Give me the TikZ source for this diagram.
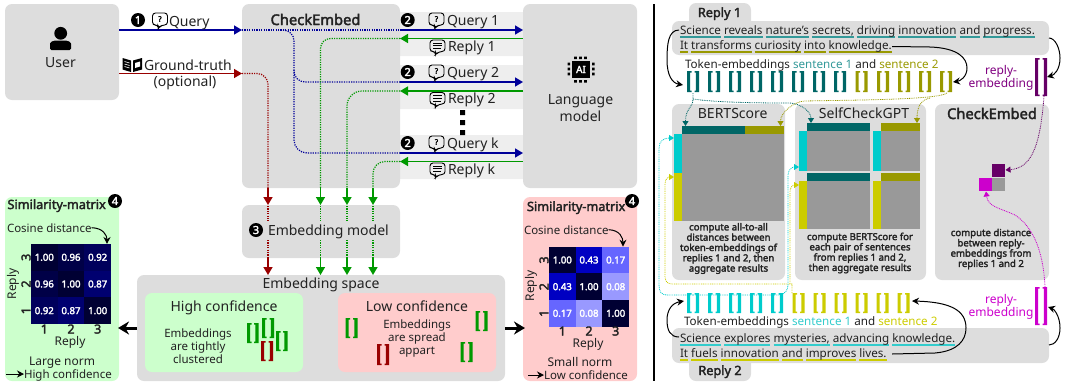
\documentclass[tikz,border=0pt]{standalone}
\usepackage{fontspec}
\setmainfont{Noto Sans}[AutoFakeBold=2.5]
\usetikzlibrary{arrows.meta}
\definecolor{pgray}{HTML}{DDDDDD}
\definecolor{lgray}{HTML}{EEEEEE}
\definecolor{tcol}{HTML}{222222}
\definecolor{cblue}{HTML}{000099}
\definecolor{cgreen}{HTML}{009900}
\definecolor{cred}{HTML}{990000}
\definecolor{lgreen}{HTML}{CCFFCC}
\definecolor{lred}{HTML}{FFCCCC}
\definecolor{cteal}{HTML}{006666}
\definecolor{colive}{HTML}{999900}
\definecolor{ccyan}{HTML}{00CCCC}
\definecolor{cyell}{HTML}{CCCC00}
\definecolor{tteal}{HTML}{339999}
\definecolor{tcyan}{HTML}{33CCCC}
\definecolor{cpurp}{HTML}{660066}
\definecolor{tpurp}{HTML}{800080}
\definecolor{cmag}{HTML}{CC00CC}
\definecolor{cgr}{HTML}{999999}
\definecolor{ma}{HTML}{000033}
\definecolor{mb}{HTML}{000047}
\definecolor{mc}{HTML}{00005C}
\definecolor{md}{HTML}{000070}
\definecolor{me}{HTML}{0000C2}
\definecolor{mf}{HTML}{6666FF}
\definecolor{mg}{HTML}{9999FF}
\newcommand\fsz[2]{\fontsize{#1}{#2}\selectfont}
\tikzset{
  panelbox/.style={rectangle,rounded corners=7pt,inner sep=0pt,outer sep=0pt},
  lbl/.style={inner sep=0pt,outer sep=0pt,text=tcol,font=\fsz{14}{16}},
  mid/.style={lbl,font=\fsz{12}{13}},
  midb/.style={lbl,font=\fsz{11.5}{13}},
  midc/.style={lbl,font=\fsz{11.66}{13}},
  boldsm/.style={lbl,align=center,font=\bfseries\fsz{9.6}{10.3}},
  boldmd/.style={lbl,font=\bfseries\fsz{12.7}{13}},
  boldlg/.style={lbl,font=\bfseries\fsz{14.7}{16}},
  mval/.style={rectangle,inner sep=0pt,outer sep=0pt,minimum size=26.67pt,text=white,font=\bfseries\fsz{9.6}{10}},
  axn/.style={lbl,font=\bfseries\fsz{12.5}{13}},
  sol/.style={line width=1.5pt,-{Triangle[length=8pt,width=9pt]}},
  dotl/.style={line width=1.2pt,dash pattern=on 1.2pt off 1.2pt},
  thind/.style={line width=.8pt,dash pattern=on .9pt off .9pt,-{Triangle[length=5pt,width=6pt]}},
  blk/.style={line width=1pt,black,-{Stealth[length=7pt,width=7pt]}},
  big/.style={line width=3pt,black,-{Stealth[length=11pt,width=13pt]}},
  numc/.style={circle,fill=black,text=white,inner sep=0pt,minimum size=14pt,font=\bfseries\fsz{11}{11}},
}
\newcommand\panel[6]{\node[panelbox,fill=#6,minimum width={(#4-#2)*1pt},minimum height={(#5-#3)*1pt}] (#1) at ({(#2+#4)/2},{(#3+#5)/2}) {};}
\newcommand\brk[5]{\fill[#5] (#1,#2) rectangle (#1+3.2,#4) (#1,#2) rectangle (#1+4.5,#2+1.5) (#1,#4-1.5) rectangle (#1+4.5,#4)
  (#3,#2) rectangle (#3-3.2,#4) (#3,#2) rectangle (#3-4.5,#2+1.5) (#3,#4-1.5) rectangle (#3-4.5,#4);}
\newcommand\cbar[6]{\node[rectangle,inner sep=0pt,outer sep=0pt,fill=#6,minimum width={(#4-#2)*1pt},minimum height={(#5-#3)*1pt}] (#1) at ({(#2+#4)/2},{(#3+#5)/2}) {};}
\newcommand\qicon[2]{\begin{scope}[shift={(#1,#2)}]
  \draw[line width=.9pt,rounded corners=3pt] (-7.5,-7) -- (7.5,-7) -- (7.5,5) -- (1.5,5) -- (-1.5,8.5) -- (-2,5) -- (-7.5,5) -- cycle;
  \node[inner sep=0pt,font=\bfseries\fsz{7.5}{8}] at (0,-1) {?};\end{scope}}
\newcommand\ricon[2]{\begin{scope}[shift={(#1,#2)}]
  \draw[line width=.9pt,rounded corners=3pt] (-7.5,-6.5) -- (7.5,-6.5) -- (7.5,5) -- (1.5,5) -- (-2,8.5) -- (-2,5) -- (-7.5,5) -- cycle;
  \draw[line width=1pt] (-4.5,-3.5) -- (4.5,-3.5) (-4.5,-.7) -- (4.5,-.7) (-4.5,2) -- (3,2);\end{scope}}
\newcommand\wu[2]{\setbox0\hbox{#2}\rlap{\color{#1}\vrule width\wd0 height -2.2pt depth 3.7pt}\box0\relax}
\newcommand\mcell[5]{\node[mval,fill=#4] (#1) at (#2,#3) {#5};}
\begin{document}
\begin{tikzpicture}[x=1pt,y=-1pt]
\useasboundingbox (0,0) rectangle (1067,381);
% ---------- left diagram: backgrounds
\fill[lgray] (400,12) rectangle (523,56) (400,65) rectangle (523,109) (400,135) rectangle (523,179);
\panel{user}{5}{4}{119}{100}{pgray}
\panel{ce}{242}{4}{400}{188}{pgray}
\panel{lm}{523}{4}{637}{188}{pgray}
\panel{em}{242}{205}{400}{258}{pgray}
\panel{es}{137}{275}{505}{381}{pgray}
\panel{hc}{145}{293}{303}{372}{lgreen}
\panel{lc}{338}{293}{496}{372}{lred}
\panel{sl}{5}{197}{119}{381}{lgreen}
\panel{sr}{523}{197}{637}{381}{lred}
% row coordinates
\coordinate (yq) at (0,30); \coordinate (yg) at (0,73.5);
\coordinate (q1) at (0,30); \coordinate (r1) at (0,38.5);
\coordinate (q2) at (0,82); \coordinate (r2) at (0,91);
\coordinate (qk) at (0,153); \coordinate (rk) at (0,161.5);
% dotted routing inside CheckEmbed
\draw[dotl,cblue] (ce.west |- q1) -- (ce.east |- q1);
\draw[dotl,cblue,rounded corners=11pt] (283,30) -- (294,30) -- (294,82) -- (ce.east |- q2);
\draw[dotl,cblue,rounded corners=13pt] (294,70) -- (294,153) -- (ce.east |- qk);
\draw[dotl,cred,rounded corners=11pt] (ce.west |- yg) -- (268,73.5) -- (268,188);
\draw[dotl,cgreen,rounded corners=10pt] (ce.east |- r1) -- (320.5,38.5) -- (320.5,188);
\draw[dotl,cgreen,rounded corners=15pt] (ce.east |- r2) -- (347,91) -- (347,188);
\draw[dotl,cgreen,rounded corners=12pt] (ce.east |- rk) -- (373,161.5) -- (373,188);
% solid arrows top
\draw[sol,cblue] (user.east |- yq) -- (ce.west |- yq);
\draw[sol,cred] (user.east |- yg) -- (ce.west |- yg);
\draw[sol,cblue] (ce.east |- q1) -- (lm.west |- q1);
\draw[sol,cblue] (ce.east |- q2) -- (lm.west |- q2);
\draw[sol,cblue] (ce.east |- qk) -- (lm.west |- qk);
\draw[sol,cgreen] (lm.west |- r1) -- (ce.east |- r1);
\draw[sol,cgreen] (lm.west |- r2) -- (ce.east |- r2);
\draw[sol,cgreen] (lm.west |- rk) -- (ce.east |- rk);
% arrows into/out of embedding model
\foreach \xx/\cc in {268/cred,320.5/cgreen,347/cgreen,373/cgreen}{
  \draw[sol,\cc] (\xx,188) -- (\xx,205);
  \draw[dotl,\cc] (\xx,206) -- (\xx,221);
  \draw[dotl,\cc] (\xx,240) -- (\xx,258);
  \draw[sol,\cc] (\xx,258) -- (\xx,275);
}
% user icon
\fill[black] (60.7,33.3) circle (6.4);
\fill[black,rounded corners=1.5pt] (50,50) -- (50,45) .. controls (50,42) and (53,40.7) .. (56,40.7) -- (65,40.7) .. controls (68,40.7) and (71,42) .. (71,45) -- (71,50) -- cycle;
\node[lbl,anchor=base] (utxt) at (60.5,67) {User};
% labels top
\node[numc] (n1) at (138,20) {1};
\qicon{160}{20}
\node[lbl,anchor=base west] (lq) at (169,26) {Query};
\fill[black] (122.5,58) -- (131,60.5) -- (131,72) -- (122.5,69.5) -- cycle (142,58) -- (133,60.5) -- (133,72) -- (142,69.5) -- cycle;
\draw[white,line width=.6pt] (124.5,61.5) -- (129.5,63) (124.5,64) -- (129.5,65.5) (124.5,66.5) -- (129.5,68);
\fill[white] (135,63) -- (140,61.5) -- (140,66.5) -- (135,68) -- cycle;
\node[lbl,anchor=base west] (lg) at (144,70) {Ground-truth};
\node[lbl,anchor=base] (lo) at (185,86) {(optional)};
\node[boldlg,anchor=base] (cet) at (315.5,25) {CheckEmbed};
\foreach \nm/\yy/\lab in {a/20/Query 1,b/72/Query 2,c/143/Query k}{
  \node[numc] (n2\nm) at (407.7,\yy) {2};
  \qicon{436.5}{\yy}
  \pgfmathsetmacro\bb{\yy+5.2}
  \node[lbl,anchor=base west] (q\nm) at (447,\bb) {\lab};
}
\foreach \nm/\yy/\lab in {a/46.5/Reply 1,b/99/Reply 2,c/169.5/Reply k}{
  \ricon{437.5}{\yy}
  \pgfmathsetmacro\bb{\yy+4.7}
  \node[lbl,anchor=base west] (r\nm) at (448,\bb) {\lab};
}
\fill[black] (460,110) rectangle (465,115) (460,120) rectangle (465,125) (460,130) rectangle (465,135);
% chip
\fill[black] (572,61) rectangle (590,78);
\node[inner sep=0pt,text=white,font=\bfseries\fsz{10}{10}] (chip) at (581,69.5) {AI};
\foreach \pp in {575,580,585}{\fill[black] (\pp-.8,56.5) rectangle (\pp+1.8,59) (\pp-.8,80) rectangle (\pp+1.8,82.5);}
\foreach \pp in {63.5,68.5,73.5}{\fill[black] (567.5,\pp-.8) rectangle (570,\pp+1.8) (592,\pp-.8) rectangle (594.5,\pp+1.8);}
\node[lbl,anchor=base] (lm1) at (580.5,104) {Language};
\node[lbl,anchor=base] (lm2) at (580.5,121) {model};
% embedding model
\node[numc] (n3) at (256,230) {3};
\node[lbl,anchor=base west] (emt) at (268,235) {Embedding model};
\node[lbl,anchor=base] (est) at (321,288) {Embedding space};
% big arrows
\draw[big] (es.west |- 0,328) -- (118,328);
\draw[big] (es.east |- 0,328) -- (525,328);
% confidence
\node[lbl,anchor=base] (hct) at (224,311) {High confidence};
\node[lbl,anchor=base] (lct) at (417,311) {Low confidence};
\node[midb,anchor=base] (he1) at (198,337) {Embeddings};
\node[midb,anchor=base] (he2) at (198,350) {are tightly};
\node[midb,anchor=base] (he3) at (198,363) {clustered};
\node[midb,anchor=base] (le1) at (417,328) {Embeddings};
\node[midb,anchor=base] (le2) at (417,341) {are spread};
\node[midb,anchor=base] (le3) at (417,354) {appart};
\brk{247}{323}{258.5}{343}{cgreen}
\brk{262}{318}{274}{338}{cgreen}
\brk{276}{331}{287.5}{351}{cgreen}
\brk{261}{341}{273}{361}{cred}
\brk{345.5}{318}{357.5}{338}{cgreen}
\brk{475.5}{311}{487.5}{331}{cgreen}
\brk{460.5}{342}{472.5}{362}{cgreen}
\brk{377}{344}{389}{365}{cred}
% left matrix
\node[boldmd,anchor=base west] (slt) at (7.5,209) {Similarity-matrix};
\node[numc] (n4a) at (115,201) {4};
\node[midb,anchor=base west] (cosa) at (7,232) {Cosine distance};
\mcell{a11}{44.3}{257.3}{ma}{1.00}
\mcell{a12}{71}{257.3}{mb}{0.96}
\mcell{a13}{97.7}{257.3}{mc}{0.92}
\mcell{a21}{44.3}{284}{mb}{0.96}
\mcell{a22}{71}{284}{ma}{1.00}
\mcell{a23}{97.7}{284}{md}{0.87}
\mcell{a31}{44.3}{310.7}{mc}{0.92}
\mcell{a32}{71}{310.7}{md}{0.87}
\mcell{a33}{97.7}{310.7}{ma}{1.00}
\draw[blk] (cosa.east) .. controls (103,228) and (107,235) .. (a13.north -| 107,0);
\foreach \pp/\lab in {44.3/1,71/2,97.7/3}{\node[axn,anchor=base] at (\pp,333.5) {\lab};}
\foreach \pp/\lab in {257.3/3,284/2,310.7/1}{\node[axn,rotate=90] at (26,\pp) {\lab};}
\node[mid,anchor=base] (rxa) at (70,345) {Reply};
\node[mid,rotate=90] (rya) at (13,284) {Reply};
\node[mid,anchor=base] (lna) at (62,365) {Large norm};
\node[midb,anchor=base west] (hca) at (24,378) {High confidence};
\coordinate (aas) at (6,374);
\draw[black,line width=1pt,-{Stealth[length=7pt,width=7pt]}] (aas) -- (hca.west |- aas);
% right matrix
\node[boldmd,anchor=base west] (srt) at (527,211) {Similarity-matrix};
\node[numc] (n4b) at (632,201) {4};
\node[midb,anchor=base west] (cosb) at (524,234) {Cosine distance};
\mcell{b11}{562.3}{260}{ma}{1.00}
\mcell{b12}{589}{260}{me}{0.43}
\mcell{b13}{615.7}{260}{mf}{0.17}
\mcell{b21}{562.3}{286.7}{me}{0.43}
\mcell{b22}{589}{286.7}{ma}{1.00}
\mcell{b23}{615.7}{286.7}{mg}{0.08}
\mcell{b31}{562.3}{313.3}{mf}{0.17}
\mcell{b32}{589}{313.3}{mg}{0.08}
\mcell{b33}{615.7}{313.3}{ma}{1.00}
\draw[blk] (cosb.east) .. controls (620,230) and (623,238) .. (b13.north -| 623,0);
\foreach \pp/\lab in {562.3/1,589/2,615.7/3}{\node[axn,anchor=base] at (\pp,335.5) {\lab};}
\foreach \pp/\lab in {260/3,286.7/2,313.3/1}{\node[axn,rotate=90] at (544,\pp) {\lab};}
\node[mid,anchor=base] (rxb) at (588,347) {Reply};
\node[mid,rotate=90] (ryb) at (531,286) {Reply};
\node[mid,anchor=base] (lnb) at (580,366) {Small norm};
\node[midb,anchor=base west] (lca) at (544,379) {Low confidence};
\coordinate (bbs) at (528,375);
\draw[black,line width=1pt,-{Stealth[length=7pt,width=7pt]}] (bbs) -- (lca.west |- bbs);
% divider
\draw[black,line width=1.5pt] (654,4) -- (654,381);
% ---------- right diagram
\panel{tab1}{689}{3}{751}{30}{pgray}
\panel{tab2}{689}{350}{751}{381}{pgray}
\panel{txt1}{672}{21}{1049}{55}{pgray}
\panel{txt2}{672}{328}{1049}{363}{pgray}
\panel{pb}{672}{104}{785}{280}{pgray}
\panel{ps}{795}{104}{926}{280}{pgray}
\panel{pc}{935}{104}{1049}{280}{pgray}
\node[boldmd,anchor=base] (t1) at (719.5,17) {Reply 1};
\node[boldmd,anchor=base] (t2) at (720,375) {Reply 2};
% text lines
\node[midc,anchor=base west] (l11) at (680,34) {\wu{tteal}{Science} \wu{tteal}{reveals} \wu{tteal}{nature's} \wu{tteal}{secrets,} \wu{tteal}{driving} \wu{tteal}{innovation} \wu{tteal}{and} \wu{tteal}{progress.}};
\node[midc,anchor=base west] (l12) at (680,49) {\wu{colive}{It} \wu{colive}{transforms} \wu{colive}{curiosity} \wu{colive}{into} \wu{colive}{knowledge.}};
\node[midc,anchor=base west] (l21) at (680,342) {\wu{tcyan}{Science} \wu{tcyan}{explores} \wu{tcyan}{mysteries,} \wu{tcyan}{advancing} \wu{tcyan}{knowledge.}};
\node[midc,anchor=base west] (l22) at (680,357) {\wu{cyell}{It} \wu{cyell}{fuels} \wu{cyell}{innovation} \wu{cyell}{and} \wu{cyell}{improves} \wu{cyell}{lives.}};
\node[midc,anchor=base west] (te1) at (685,68) {Token-embeddings \textcolor{tteal}{sentence 1} and \textcolor{colive}{sentence 2}};
\node[midc,anchor=base west] (te2) at (684,325) {Token-embeddings \textcolor{tcyan}{sentence 1} and \textcolor{cyell}{sentence 2}};
\node[mid,anchor=base,text=tpurp] (re1) at (1001,74) {reply-};
\node[mid,anchor=base,text=tpurp] (re2) at (1001,87) {embedding};
\node[mid,anchor=base,text=cmag] (re3) at (1001,303) {reply-};
\node[mid,anchor=base,text=cmag] (re4) at (1001,316) {embedding};
% panel titles
\node[lbl,anchor=base] (bt) at (732.7,118) {BERTScore};
\node[lbl,anchor=base] (st) at (864,118) {SelfCheckGPT};
\node[boldlg,anchor=base] (ct) at (992,119) {CheckEmbed};
% BERTScore bars
\cbar{b1}{682}{126}{745}{134}{cteal}
\cbar{b2}{745}{126}{784}{134}{colive}
\cbar{b3}{674}{134}{682}{173}{ccyan}
\cbar{b4}{674}{173}{682}{221}{cyell}
\cbar{b5}{682}{134}{784}{221}{cgr}
% SelfCheckGPT bars
\cbar{s1}{807}{123}{870}{131}{cteal}
\cbar{s2}{881}{123}{920}{131}{colive}
\cbar{s3}{799}{131}{807}{171}{ccyan}
\cbar{s4}{873}{131}{881}{171}{ccyan}
\cbar{s5}{807}{131}{870}{171}{cgr}
\cbar{s6}{881}{131}{920}{171}{cgr}
\cbar{s7}{807}{173}{870}{181}{cteal}
\cbar{s8}{881}{173}{920}{181}{colive}
\cbar{s9}{799}{181}{807}{229}{cyell}
\cbar{s10}{873}{181}{881}{229}{cyell}
\cbar{s11}{807}{181}{870}{229}{cgr}
\cbar{s12}{881}{181}{920}{229}{cgr}
% CheckEmbed squares
\cbar{c1}{992}{164}{1005}{177}{cpurp}
\cbar{c2}{979}{178}{992}{191}{cmag}
\cbar{c3}{992}{178}{1005}{191}{cgr}
% bold captions
\node[boldsm] (bc) at (728.5,248.5) {compute all-to-all\\distances between\\token-embeddings of\\replies 1 and 2, then\\aggregate results};
\node[boldsm] (sc) at (860,253) {compute BERTScore for\\each pair of sentences\\from replies 1 and 2,\\then aggregate results};
\node[boldsm] (cc) at (991,249) {compute distance\\between reply-\\embeddings from\\replies 1 and 2};
% thin dotted connectors
\coordinate (ta) at (693,93); \coordinate (tb) at (693,99);
\draw[thind,cteal] (ta) -- (tb) .. controls (693,108) and (685.5,108) .. (685.5,126);
\draw[thind,cteal] (tb) .. controls (720,103) and (770,103) .. (790,103) .. controls (802,104) and (811,112) .. (811,123);
\coordinate (oa) at (947,93);
\draw[thind,colive] (oa) .. controls (938,100) and (850,100) .. (805,101) .. controls (795,101) and (780.5,112) .. (780.5,126);
\draw[thind,colive] (930,98) .. controls (920,100) and (917,108) .. (917,123);
\draw[thind,ccyan] (693,295) -- (668,295) .. controls (661,295) and (659,292) .. (659,285) -- (659,148) .. controls (659,141) and (664,138) .. (674,138);
\draw[thind,ccyan] (693,295) -- (778,295) .. controls (785,295) and (788,290) .. (788,285) -- (788,175) .. controls (788,170) and (792,167) .. (799,167);
\draw[thind,cyell] (792,293) -- (792,284) -- (672,284) .. controls (667,284) and (665,281) .. (665,276) -- (665,184) .. controls (665,179) and (668,177) .. (674,177);
\draw[thind,cyell] (790,284) -- (790,192) .. controls (790,187) and (793,185) .. (799,185);
\coordinate (pa) at (1044,96);
\draw[thind,cpurp] (pa) .. controls (1040,150) and (1030,168) .. (1005.5,170);
\coordinate (mq) at (1045,287);
\draw[thind,cmag] (mq) .. controls (1043,245) and (1030,225) .. (1015,215) .. controls (1000,208) and (988,207) .. (986,191.5);
% brackets
\foreach \xx in {687,708,729,750,771,792,813,834}{\brk{\xx}{71}{\xx+12}{92}{cteal}}
\foreach \xx in {855.5,877,898,919,940}{\brk{\xx}{71}{\xx+12}{92}{colive}}
\foreach \xx in {687,708,729,750,771}{\brk{\xx}{293}{\xx+12}{313}{ccyan}}
\foreach \xx in {792.5,813.5,834.5,855.5,876.5,897.5}{\brk{\xx}{293}{\xx+12}{313}{cyell}}
\brk{1035}{58}{1047}{96}{cpurp}
\brk{1035}{287}{1047}{325}{cmag}
% black curves
\coordinate (e1) at (683,85); \coordinate (e2) at (953,82); \coordinate (e3) at (1047,77);
\coordinate (e4) at (684,301); \coordinate (e5) at (912,301); \coordinate (e6) at (1048,307);
\draw[blk] (679,30) .. controls (668,30) and (667,45) .. (667,60) .. controls (667,75) and (672,83) .. (e1);
\draw[blk] (892,46.5) -- (930,47) .. controls (958,48) and (967,58) .. (967,68) .. controls (967,77) and (960,81) .. (e2);
\draw[blk] (txt1.east |- 0,38) .. controls (1055,38) and (1060,48) .. (1060,58) .. controls (1060,70) and (1054,75) .. (e3);
\draw[blk] (679,337) .. controls (670,337) and (667,330) .. (667,320) .. controls (667,310) and (672,303) .. (e4);
\draw[blk] (892,354) -- (935,353) .. controls (958,351) and (966,340) .. (966,328) .. controls (966,310) and (950,302) .. (e5);
\draw[blk] (txt2.east |- 0,345) .. controls (1055,345) and (1060,338) .. (1060,328) .. controls (1060,316) and (1054,309) .. (e6);
\end{tikzpicture}
\end{document}
